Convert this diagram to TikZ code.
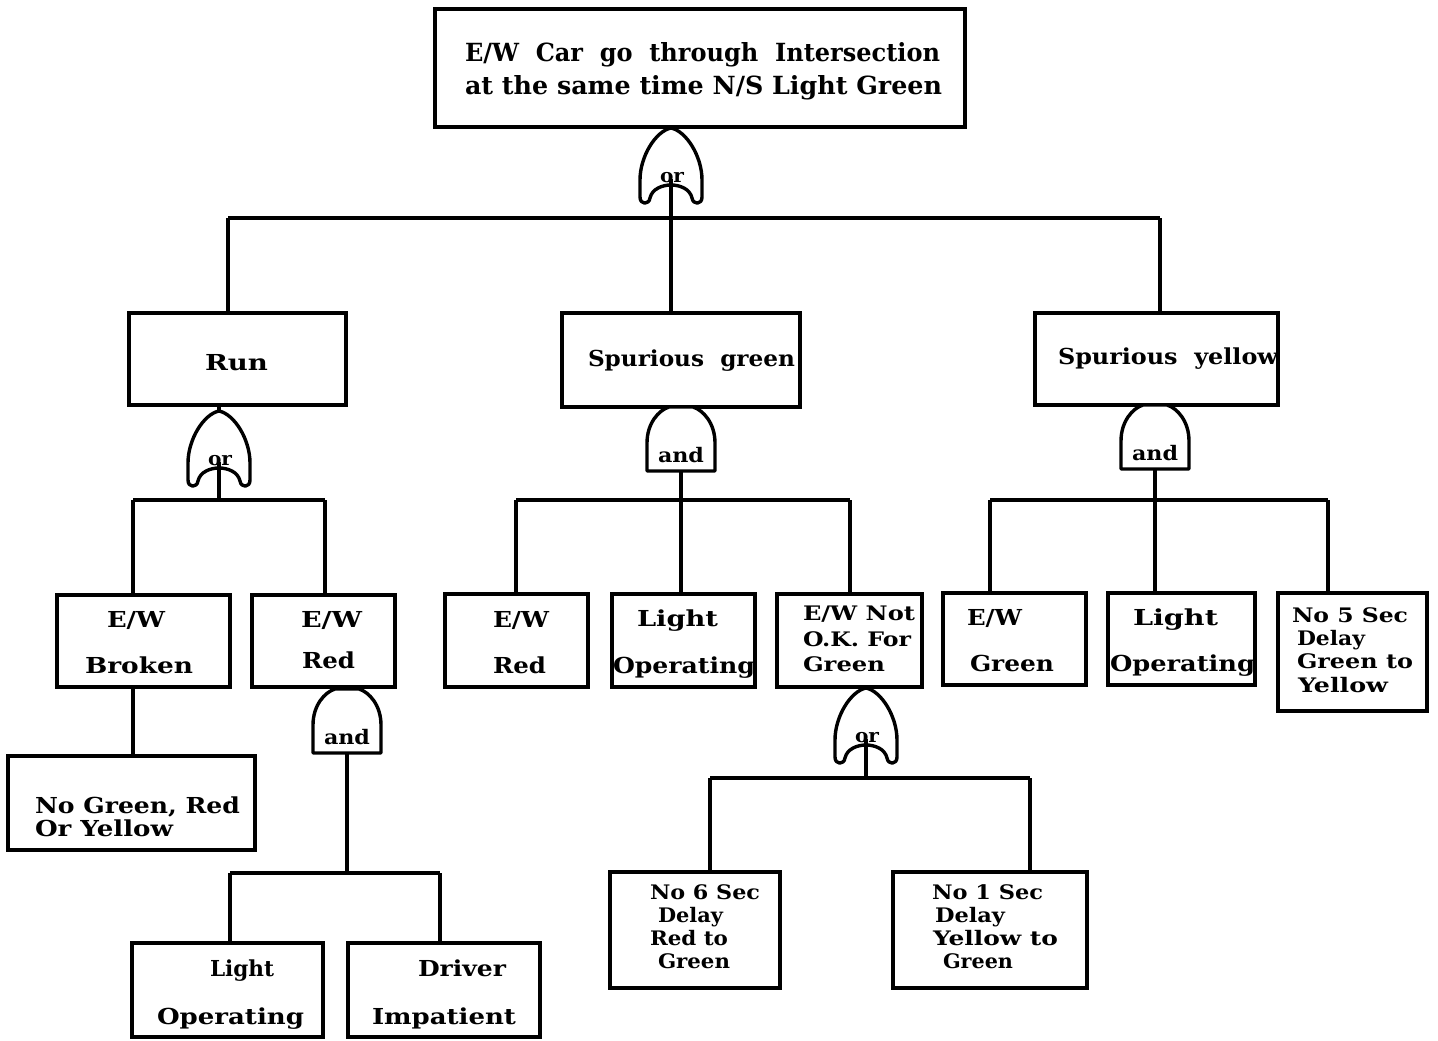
\documentclass[tikz,border=0pt]{standalone}
\usepackage{fontspec}
\usepackage{graphicx}
\setmainfont{DejaVu Serif}
\newcommand\tw[2]{\resizebox{#1pt}{\height}{#2}}
\newcommand\bx[5]{\node[box,minimum width={#4-#2},minimum height={#5-#3}] (#1) at ({(#2+#4)/2},{(#3+#5)/2}) {};}
\newcommand\tx[6][]{\node[txt,#1] (#2) at (#3,#4) {\tw{#5}{#6}};}
\begin{document}
\begin{tikzpicture}[x=1pt,y=-1pt,
  box/.style={draw,line width=3.6pt,inner sep=0pt,outer sep=0pt},
  conn/.style={line width=3.2pt},
  gate/.style={draw,line width=3.4pt,fill=white,line join=round},
  txt/.style={inner sep=0pt,outer sep=0pt,anchor=base west,font=\bfseries\fontsize{22}{26}\selectfont},
  big/.style={font=\bfseries\fontsize{25}{30}\selectfont},
  small/.style={font=\bfseries\fontsize{20}{24}\selectfont},
  gtxt/.style={inner sep=0pt,outer sep=0pt,anchor=base,font=\bfseries\fontsize{20}{22}\selectfont},
  orgate/.pic={
    \path[gate] (0,0) .. controls (15,3) and (31,28) .. (31,52) -- (31,69)
      .. controls (31,77) and (22,77) .. (21,70)
      .. controls (19,61) and (9,57) .. (0,57)
      .. controls (-9,57) and (-19,61) .. (-21,70)
      .. controls (-22,77) and (-31,77) .. (-31,69) -- (-31,52)
      .. controls (-31,28) and (-15,3) .. (0,0) -- cycle;
    \node[gtxt,font=\bfseries\fontsize{19}{19}\selectfont] (-txt) at (1,54) {\tw{24}{or}};
    \coordinate (-top) at (0,0);
    \coordinate (-bot) at (0,57);
  },
  andgate/.pic={
    \path[gate] (-34,64) -- (-34,36) .. controls (-34,16) and (-22,3) .. (-12,0) -- (12,0)
      .. controls (22,3) and (34,16) .. (34,36) -- (34,64) -- cycle;
    \node[gtxt] (-txt) at (0,55) {\tw{46}{and}};
    \coordinate (-top) at (0,0);
    \coordinate (-bot) at (0,64);
  }
]
\useasboundingbox[fill=white] (0,0) rectangle (1438,1041);

% boxes
\bx{top}{435}{9}{965}{127}
\bx{run}{129}{313}{346}{405}
\bx{spg}{562}{313}{800}{407}
\bx{spy}{1035}{313}{1278}{405}
\bx{ewb}{57}{595}{230}{687}
\bx{ewr}{252}{595}{395}{687}
\bx{nog}{8}{756}{255}{850}
\bx{lo1}{132}{943}{323}{1037}
\bx{drv}{348}{943}{540}{1037}
\bx{ewr2}{445}{594}{588}{687}
\bx{lo2}{612}{594}{755}{687}
\bx{ewn}{777}{594}{922}{687}
\bx{no6}{610}{872}{780}{988}
\bx{no1}{893}{872}{1087}{988}
\bx{ewg}{943}{593}{1086}{685}
\bx{lo3}{1108}{593}{1255}{685}
\bx{no5}{1278}{593}{1427}{711}

% junction coordinates
\coordinate (j0a) at (228,218);
\coordinate (j0c) at (1160,218);
\coordinate (j1a) at (133,500);
\coordinate (j1b) at (325,500);
\coordinate (j2a) at (516,500);
\coordinate (j2b) at (850,500);
\coordinate (j3a) at (990,500);
\coordinate (j3b) at (1328,500);
\coordinate (j4a) at (230,873);
\coordinate (j4b) at (440,873);
\coordinate (j5a) at (710,778);
\coordinate (j5b) at (1030,778);

% gate positions
\coordinate (p0) at (671,128);
\coordinate (p1) at (219,411);
\coordinate (p2) at (681,407);
\coordinate (p3) at (1155,405);
\coordinate (p4) at (347,689);
\coordinate (p5) at (866,688);

% connectors
\draw[conn] (p0) -- (p0 |- spg.north);
\draw[conn] (j0a) -- (j0c);
\draw[conn] (j0a) -- (j0a |- run.north);
\draw[conn] (j0c) -- (j0c |- spy.north);

\draw[conn] (run.south -| p1) -- (p1) -- (p1 |- j1a);
\draw[conn] (j1a) -- (j1b);
\draw[conn] (j1a) -- (j1a |- ewb.north);
\draw[conn] (j1b) -- (j1b |- ewr.north);
\draw[conn] (ewb.south -| j1a) -- (nog.north -| j1a);

\draw[conn] (p4) -- (p4 |- j4a);
\draw[conn] (j4a) -- (j4b);
\draw[conn] (j4a) -- (j4a |- lo1.north);
\draw[conn] (j4b) -- (j4b |- drv.north);

\draw[conn] (p2) -- (p2 |- j2a);
\draw[conn] (j2a) -- (j2b);
\draw[conn] (j2a) -- (j2a |- ewr2.north);
\draw[conn] (p2 |- j2a) -- (p2 |- lo2.north);
\draw[conn] (j2b) -- (j2b |- ewn.north);

\draw[conn] (p5) -- (p5 |- j5a);
\draw[conn] (j5a) -- (j5b);
\draw[conn] (j5a) -- (j5a |- no6.north);
\draw[conn] (j5b) -- (j5b |- no1.north);

\draw[conn] (p3) -- (p3 |- j3a);
\draw[conn] (j3a) -- (j3b);
\draw[conn] (j3a) -- (j3a |- ewg.north);
\draw[conn] (p3 |- j3a) -- (p3 |- lo3.north);
\draw[conn] (j3b) -- (j3b |- no5.north);

% gates
\pic (g0) at (p0) {orgate};
\pic (g1) at (p1) {orgate};
\pic (g2) at (p2) {andgate};
\pic (g3) at (p3) {andgate};
\pic (g4) at (p4) {andgate};
\pic (g5) at (p5) {orgate};
\draw[conn] (g0-bot) -- ++(0,-6);
\draw[conn] (g1-bot) -- ++(0,-6);
\draw[conn] (g5-bot) -- ++(0,-6);

% texts
\tx[big]{t1}{465}{62}{475}{E/W\ \ Car\ \ go\ \ through\ \ Intersection}
\tx[big]{t2}{465}{94}{477}{at the same time N/S Light Green}
\tx{t3}{205}{370}{63}{Run}
\tx{t4}{588}{366}{207}{Spurious\ \ green}
\tx{t5}{1058}{364}{220}{Spurious\ \ yellow}
\tx{t6}{107}{627}{58}{E/W}
\tx{t7}{85}{673}{108}{Broken}
\tx{t8}{301}{627}{61}{E/W}
\tx{t9}{302}{668}{53}{Red}
\tx{t10}{35}{813}{205}{No Green, Red}
\tx{t11}{35}{836}{138}{Or Yellow}
\tx{t12}{210}{976}{64}{Light}
\tx{t13}{157}{1024}{147}{Operating}
\tx{t14}{418}{976}{88}{Driver}
\tx{t15}{372}{1024}{144}{Impatient}
\tx{t16}{493}{627}{56}{E/W}
\tx{t17}{493}{673}{53}{Red}
\tx{t18}{637}{626}{81}{Light}
\tx{t19}{613}{673}{142}{Operating}
\tx[small]{t20}{803}{620}{112}{E/W Not}
\tx[small]{t21}{803}{646}{108}{O.K. For}
\tx[small]{t22}{803}{671}{82}{Green}
\tx[small]{t23}{650}{899}{110}{No 6 Sec}
\tx[small]{t24}{658}{922}{65}{Delay}
\tx[small]{t25}{650}{945}{78}{Red to}
\tx[small]{t26}{658}{968}{72}{Green}
\tx[small]{t27}{932}{899}{111}{No 1 Sec}
\tx[small]{t28}{935}{922}{70}{Delay}
\tx[small]{t29}{933}{945}{125}{Yellow to}
\tx[small]{t30}{943}{968}{70}{Green}
\tx{t31}{967}{625}{55}{E/W}
\tx{t32}{970}{671}{84}{Green}
\tx{t33}{1133}{625}{85}{Light}
\tx{t34}{1110}{671}{145}{Operating}
\tx[small]{t35}{1292}{622}{116}{No 5 Sec}
\tx[small]{t36}{1297}{645}{68}{Delay}
\tx[small]{t37}{1297}{668}{116}{Green to}
\tx[small]{t38}{1298}{692}{90}{Yellow}
\end{tikzpicture}
\end{document}
